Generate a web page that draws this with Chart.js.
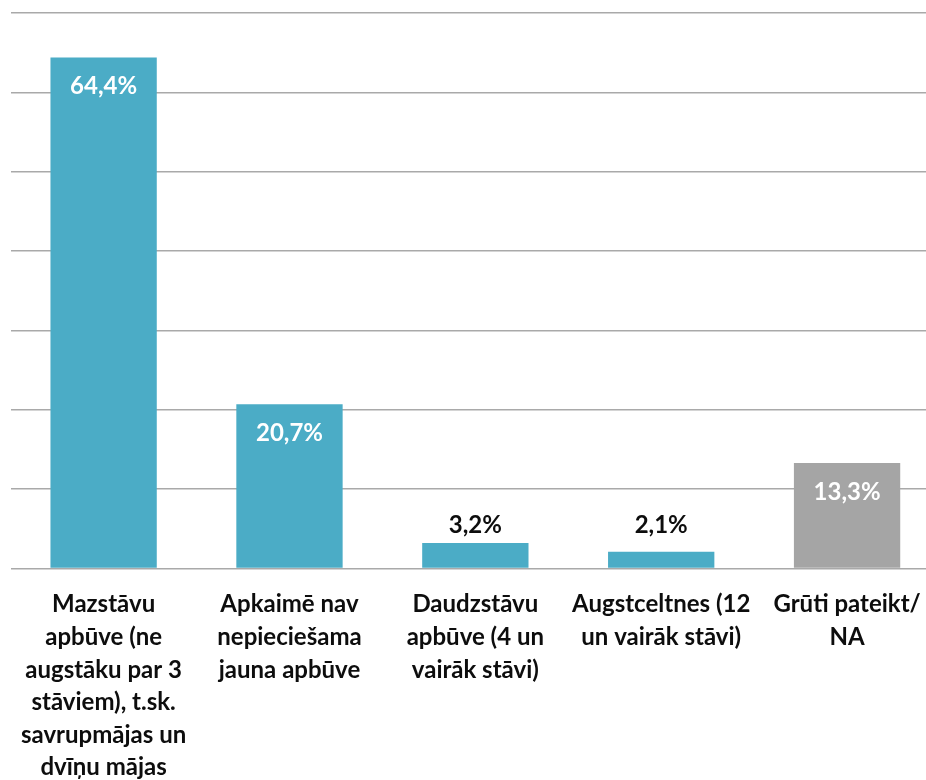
<!DOCTYPE html>
<html>
<head>
<meta charset="utf-8">
<script src="https://cdn.jsdelivr.net/npm/chart.js@4"></script>
<style>
  html, body { margin: 0; padding: 0; background: #fff; overflow: hidden; }
  canvas { display: block; }
</style>
</head>
<body>
<canvas id="chart" width="950" height="780"></canvas>
<script>
// chart data
const categories = [
  ['Mazstāvu', 'apbūve (ne', 'augstāku par 3', 'stāviem), t.sk.', 'savrupmājas un', 'dvīņu mājas'],
  ['Apkaimē nav', 'nepieciešama', 'jauna apbūve'],
  ['Daudzstāvu', 'apbūve (4 un', 'vairāk stāvi)'],
  ['Augstceltnes (12', 'un vairāk stāvi)'],
  ['Grūti pateikt/', 'NA']
];
const values = [64.4, 20.7, 3.2, 2.1, 13.3];
const barColors = ['#4BACC6', '#4BACC6', '#4BACC6', '#4BACC6', '#A5A5A5'];
const yTicks = [0, 10, 20, 30, 40, 50, 60, 70];

const FONT = 'Lato, "Open Sans", sans-serif';

// value labels: inside the bar for tall bars, above it for short ones
const valueLabels = {
  id: 'valueLabels',
  afterDatasetsDraw(chart) {
    const ctx = chart.ctx;
    const bars = chart.getDatasetMeta(0).data;
    const ds = chart.data.datasets[0];
    // short bars share one label line above the tallest of them
    let outsideTop = Infinity;
    bars.forEach((b, i) => { if (ds.data[i] < 10) outsideTop = Math.min(outsideTop, b.y); });
    ctx.save();
    ctx.font = 'bold 24px ' + FONT;
    ctx.textAlign = 'center';
    bars.forEach((b, i) => {
      const v = ds.data[i];
      const txt = v.toFixed(1).replace('.', ',') + '%';
      if (v >= 10) {
        ctx.fillStyle = '#ffffff';
        ctx.textBaseline = 'middle';
        ctx.fillText(txt, b.x, b.y + 29);
      } else {
        ctx.fillStyle = '#0d0d0d';
        ctx.textBaseline = 'alphabetic';
        ctx.fillText(txt, b.x, outsideTop - 10);
      }
    });
    ctx.restore();
  }
};

new Chart(document.getElementById('chart'), {
  type: 'bar',
  data: {
    labels: categories,
    datasets: [{
      data: values,
      backgroundColor: barColors,
      barPercentage: 0.572,
      categoryPercentage: 1
    }]
  },
  options: {
    responsive: false,
    animation: false,
    layout: { padding: { left: 10, right: 10, top: 13, bottom: 0 } },
    plugins: {
      legend: { display: false },
      tooltip: { enabled: false }
    },
    scales: {
      x: {
        grid: { display: false, drawTicks: false },
        border: { display: false },
        ticks: {
          color: '#0d0d0d',
          font: { family: FONT, size: 24, weight: 'bold', lineHeight: 1.355 },
          padding: 20,
          maxRotation: 0,
          autoSkip: false
        },
        afterFit(s) { s.height = 211.5; }
      },
      y: {
        min: 0,
        max: 70,
        afterBuildTicks(s) { s.ticks = yTicks.map(v => ({ value: v })); },
        ticks: { display: false },
        grid: { color: '#a9a9a9', lineWidth: 1.5, drawTicks: false },
        border: { display: false },
        afterFit(s) { s.width = 0; }
      }
    }
  },
  plugins: [valueLabels]
});
</script>
</body>
</html>
